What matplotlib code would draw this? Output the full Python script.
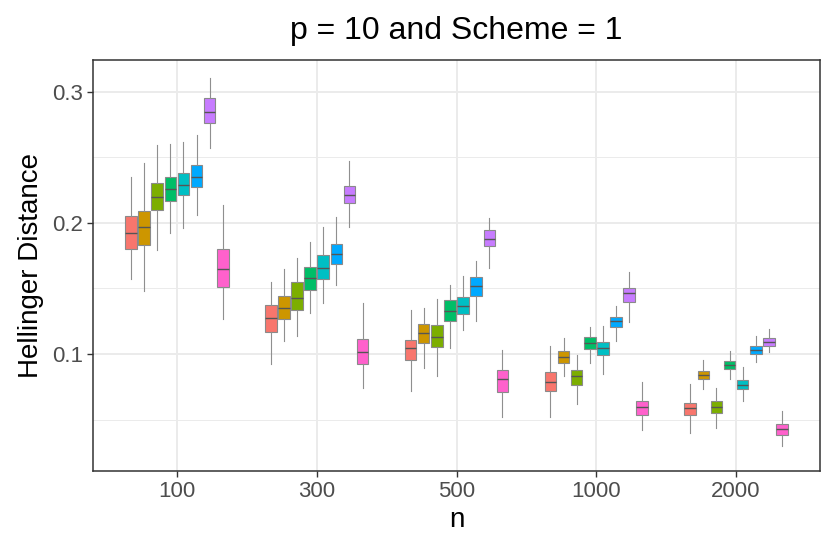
import matplotlib.pyplot as plt
from matplotlib.ticker import MultipleLocator

plt.rcParams["font.family"] = ["Liberation Sans", "DejaVu Sans"]

n_labels = ["100", "300", "500", "1000", "2000"]
colors = ["#F8766D", "#CD9600", "#7CAE00", "#00BE67",
          "#00BFC4", "#00A9FF", "#C77CFF", "#FF61CC"]

# per n: 8 groups, each (whislo, q1, med, q3, whishi)
stats_100 = [
    (0.1573, 0.1799, 0.1926, 0.2053, 0.2353),
    (0.1483, 0.1835, 0.1969, 0.2089, 0.2456),
    (0.1794, 0.2099, 0.2201, 0.2305, 0.2595),
    (0.1921, 0.2166, 0.2257, 0.2351, 0.2603),
    (0.1965, 0.2211, 0.2288, 0.2379, 0.2616),
    (0.2061, 0.2275, 0.2349, 0.2440, 0.2674),
    (0.2575, 0.2766, 0.2850, 0.2957, 0.3107),
    (0.1265, 0.1514, 0.1652, 0.1799, 0.2137),
]
stats_300 = [
    (0.0924, 0.1165, 0.1272, 0.1377, 0.1552),
    (0.1102, 0.1265, 0.1351, 0.1441, 0.1647),
    (0.1135, 0.1336, 0.1425, 0.1550, 0.1733),
    (0.1311, 0.1486, 0.1578, 0.1667, 0.1853),
    (0.1392, 0.1570, 0.1656, 0.1756, 0.1967),
    (0.1530, 0.1685, 0.1761, 0.1842, 0.2046),
    (0.1967, 0.2150, 0.2211, 0.2280, 0.2473),
    (0.0738, 0.0921, 0.1013, 0.1112, 0.1392),
]
stats_500 = [
    (0.0720, 0.0952, 0.1048, 0.1107, 0.1336),
    (0.0891, 0.1082, 0.1163, 0.1229, 0.1349),
    (0.0835, 0.1053, 0.1130, 0.1219, 0.1420),
    (0.1048, 0.1250, 0.1326, 0.1410, 0.1527),
    (0.1186, 0.1303, 0.1364, 0.1438, 0.1595),
    (0.1255, 0.1441, 0.1517, 0.1588, 0.1708),
    (0.1659, 0.1824, 0.1876, 0.1950, 0.2036),
    (0.0521, 0.0712, 0.0809, 0.0878, 0.1031),
]
stats_1000 = [
    (0.0517, 0.0715, 0.0789, 0.0860, 0.1061),
    (0.0832, 0.0931, 0.0977, 0.1021, 0.1120),
    (0.0616, 0.0763, 0.0830, 0.0878, 0.0992),
    (0.0934, 0.1041, 0.1082, 0.1127, 0.1206),
    (0.0845, 0.0990, 0.1046, 0.1094, 0.1214),
    (0.1102, 0.1209, 0.1250, 0.1285, 0.1366),
    (0.1247, 0.1394, 0.1466, 0.1504, 0.1628),
    (0.0418, 0.0534, 0.0593, 0.0641, 0.0784),
]
stats_2000 = [
    (0.0395, 0.0532, 0.0588, 0.0629, 0.0769),
    (0.0735, 0.0812, 0.0842, 0.0873, 0.0954),
    (0.0438, 0.0553, 0.0595, 0.0639, 0.0738),
    (0.0807, 0.0885, 0.0916, 0.0944, 0.1023),
    (0.0644, 0.0731, 0.0766, 0.0802, 0.0903),
    (0.0937, 0.1002, 0.1033, 0.1061, 0.1137),
    (0.1018, 0.1063, 0.1092, 0.1122, 0.1191),
    (0.0298, 0.0382, 0.0426, 0.0466, 0.0563),
]
all_stats = [stats_100, stats_300, stats_500, stats_1000, stats_2000]

fig = plt.figure(figsize=(8.3, 5.54), dpi=100)
ax = fig.add_axes([93 / 830, 1 - 471 / 554, 727 / 830, 411 / 554])

slot = 0.75 / 8
for i, grp in enumerate(all_stats):
    for j, (lo, q1, med, q3, hi) in enumerate(grp):
        pos = i + 1 + (j - 3.5) * slot
        st = [dict(whislo=lo, q1=q1, med=med, q3=q3, whishi=hi, fliers=[])]
        ax.bxp(st, positions=[pos], widths=slot * 0.88, patch_artist=True,
               showcaps=False, manage_ticks=False,
               boxprops=dict(facecolor=colors[j], edgecolor="#8a8a8a", linewidth=0.8),
               whiskerprops=dict(color="#8f8f8f", linewidth=0.8),
               medianprops=dict(color="#555555", linewidth=1.0))

ax.set_xlim(0.4, 5.6)
ax.set_ylim(0.0107, 0.3244)
ax.set_xticks(range(1, 6))
ax.set_xticklabels(n_labels)
ax.set_yticks([0.1, 0.2, 0.3])
ax.set_yticklabels(["0.1", "0.2", "0.3"])
ax.yaxis.set_minor_locator(MultipleLocator(0.05))

ax.set_axisbelow(True)
ax.grid(which="major", color="#EBEBEB", linewidth=1.4)
ax.grid(which="minor", axis="y", color="#EBEBEB", linewidth=0.7)
ax.tick_params(which="major", length=4, width=1, color="#333333",
               labelsize=16, labelcolor="#4D4D4D", pad=3)
ax.tick_params(which="minor", length=0)
for s in ax.spines.values():
    s.set_color("#333333")
    s.set_linewidth(1.1)

ax.set_xlabel("n", fontsize=20, labelpad=4)
ax.set_ylabel("Hellinger Distance", fontsize=20, labelpad=6)
ax.set_title("p = 10 and Scheme = 1", fontsize=23, pad=15)

fig.savefig("out.png", dpi=100)
